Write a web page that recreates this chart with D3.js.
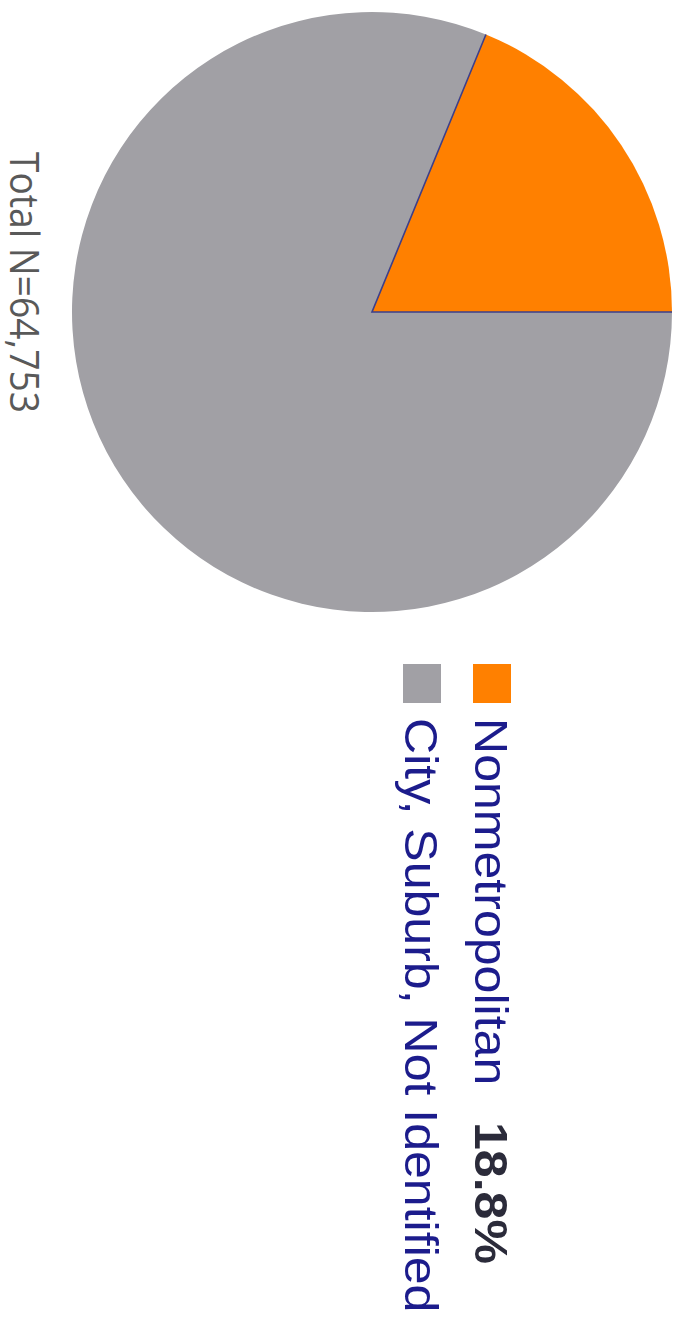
<!DOCTYPE html>
<html>
<head>
<meta charset="utf-8">
<script src="https://cdn.jsdelivr.net/npm/d3@7"></script>
<style>
  body { margin: 0; background: #fff; }
  svg { display: block; }
</style>
</head>
<body>
<svg id="chart" width="674" height="1318"></svg>
<script>
// pie data (drawn in the original orientation, then turned 90deg)
const categories = ["City, Suburb, Not Identified", "Nonmetropolitan"];
const shares = [81.2, 18.8];
const colors = ["#a1a0a5", "#ff8000"];
const legendOrder = ["Nonmetropolitan", "City, Suburb, Not Identified"];
const legendValue = { "Nonmetropolitan": "18.8%" };
const totalLabel = "Total N=64,753";

const svg = d3.select("#chart");
const W = +svg.attr("width");

// whole chart rotated clockwise
const g = svg.append("g")
    .attr("transform", `translate(${W},0) rotate(90)`);

const cx = 312, cy = 302, radius = 300;

const pie = d3.pie().sort(null).value(d => d.v);
const arcs = pie(categories.map((c, i) => ({ c, v: shares[i], col: colors[i] })));
const arc = d3.arc().innerRadius(0).outerRadius(radius);

const pg = g.append("g").attr("transform", `translate(${cx},${cy})`);

pg.selectAll("path.slice")
    .data(arcs)
    .join("path")
    .attr("class", "slice")
    .attr("d", arc)
    .attr("fill", d => d.data.col);

// thin dark edges along the slice borders
const edge = d3.lineRadial();
pg.selectAll("path.edge")
    .data(arcs.filter(d => d.data.c === "Nonmetropolitan"))
    .join("path")
    .attr("class", "edge")
    .attr("d", d => edge([[d.startAngle, radius], [0, 0], [d.endAngle, radius]]))
    .attr("fill", "none")
    .attr("stroke", "#3d3f8a")
    .attr("stroke-width", 1.6);

// legend (text a bit wider than normal, like the source)
const lx = 664, ly0 = 163, lstep = 70, box = 39;
const stretch = 1.065;
const leg = g.append("g");
function legText(x, y, str, bold, col) {
  leg.append("text")
      .attr("transform", `translate(${x},${y}) scale(${stretch},1)`)
      .attr("font-family", "'Liberation Sans', Arial, sans-serif")
      .attr("font-size", 47)
      .attr("font-weight", bold ? "bold" : "normal")
      .attr("fill", col)
      .text(str);
}
legendOrder.forEach((name, i) => {
  const col = colors[categories.indexOf(name)];
  const y = ly0 + i * lstep;
  leg.append("rect")
      .attr("x", lx).attr("y", y)
      .attr("width", box).attr("height", box - 1)
      .attr("fill", col);
  legText(lx + 54, y + 36, name, false, "#1c1c8c");
  if (legendValue[name]) legText(1122, y + 36, legendValue[name], true, "#2b2b3a");
});

g.append("text")
    .attr("transform", "translate(152,664) scale(0.93,1)")
    .attr("font-family", "'Open Sans', sans-serif")
    .attr("font-size", 40)
    .attr("fill", "#595959")
    .text(totalLabel);
</script>
</body>
</html>
